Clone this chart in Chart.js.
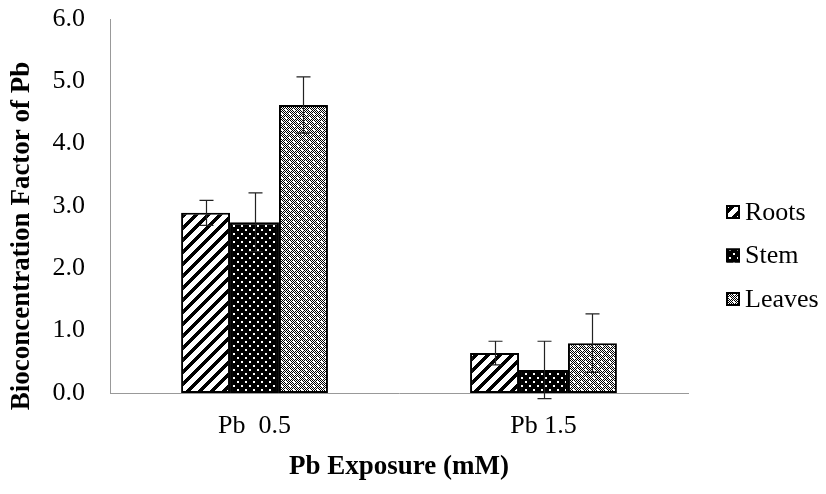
<!DOCTYPE html>
<html><head><meta charset="utf-8">
<script src="https://cdn.jsdelivr.net/npm/chart.js@4.4.0/dist/chart.umd.min.js"></script>
<style>html,body{margin:0;padding:0;background:#fff}#wrap{width:826px;height:494px}</style>
</head><body><div id="wrap"><canvas id="c" width="826" height="494"></canvas></div>
<script>
const categories = ["Pb  0.5", "Pb 1.5"];
const seriesNames = ["Roots", "Stem", "Leaves"];
const rootsValues = [2.89, 0.64];
const stemValues = [2.74, 0.37];
const leavesValues = [4.62, 0.80];
const rootsErrors = [0.20, 0.19];
const stemErrors = [0.47, 0.46];
const leavesErrors = [0.45, 0.47];
const yTicks = [0, 1, 2, 3, 4, 5, 6];
const xTitle = 'Pb Exposure (mM)';
const yTitle = 'Bioconcentration Factor of Pb';

function makeTile(w, h, draw) {
  const c = document.createElement('canvas'); c.width = w; c.height = h;
  const g = c.getContext('2d'); draw(g, w, h);
  return document.getElementById('c').getContext('2d').createPattern(c, 'repeat');
}
const rootsPattern = makeTile(12, 12, (g, w, h) => {
  g.fillStyle = '#fff'; g.fillRect(0, 0, w, h);
  g.fillStyle = '#000';
  for (let x = 0; x < w; x++) for (let y = 0; y < h; y++) if ((x + y) % 12 < 5) g.fillRect(x, y, 1, 1);
});
const stemPattern = makeTile(8, 8, (g, w, h) => {
  g.fillStyle = '#000'; g.fillRect(0, 0, w, h);
  g.fillStyle = '#fff';
  g.fillRect(1, 1, 2, 2); g.fillRect(5, 5, 2, 2);
});
const leavesPattern = makeTile(8, 8, (g, w, h) => {
  g.fillStyle = '#fff'; g.fillRect(0, 0, w, h);
  g.fillStyle = '#000';
  for (let x = 0; x < w; x++) for (let y = 0; y < h; y++) if ((x + y) % 2 === 0) g.fillRect(x, y, 1, 1);
  g.fillStyle = '#fff'; g.fillRect(1, 1, 2, 2); g.fillRect(5, 5, 2, 2);
});
const patterns = [rootsPattern, stemPattern, leavesPattern];

const errors = [rootsErrors, stemErrors, leavesErrors];
const errorBars = {
  id: 'errorBars',
  afterDatasetsDraw(chart) {
    const ctx = chart.ctx, ys = chart.scales.y;
    ctx.save(); ctx.strokeStyle = '#222'; ctx.lineWidth = 1.2;
    chart.data.datasets.forEach((ds, i) => {
      const meta = chart.getDatasetMeta(i);
      meta.data.forEach((el, j) => {
        const v = ds.data[j], e = errors[i][j];
        const x = Math.round(el.x) + 0.5;
        const t = ys.getPixelForValue(v + e), b = ys.getPixelForValue(v - e);
        ctx.beginPath();
        ctx.moveTo(x, t); ctx.lineTo(x, b);
        ctx.moveTo(x - 7, t); ctx.lineTo(x + 7, t);
        ctx.moveTo(x - 7, b); ctx.lineTo(x + 7, b);
        ctx.stroke();
      });
    });
    ctx.restore();
  }
};

const serif = "'Liberation Serif', 'Times New Roman', serif";
const sideLegend = {
  id: 'sideLegend',
  afterDraw(chart) {
    const ctx = chart.ctx;
    ctx.save();
    ctx.translate(22, 236); ctx.rotate(-Math.PI / 2);
    ctx.font = "bold 27px " + serif; ctx.fillStyle = '#000';
    ctx.textAlign = 'center'; ctx.textBaseline = 'middle';
    ctx.fillText(yTitle, 0, 0);
    ctx.restore();
    ctx.save();
    ctx.font = "26px " + serif; ctx.textBaseline = 'middle'; ctx.textAlign = 'left';
    chart.data.datasets.forEach((ds, i) => {
      const cy = 212 + i * 43.5;
      const bx = chart.chartArea.right + 38;
      ctx.fillStyle = patterns[i]; ctx.fillRect(bx, cy - 7, 14, 14);
      ctx.strokeStyle = '#000'; ctx.lineWidth = 2; ctx.strokeRect(bx + 1, cy - 6, 12, 12);
      ctx.fillStyle = '#000'; ctx.fillText(ds.label, bx + 19, cy + 1);
    });
    ctx.restore();
  }
};

new Chart(document.getElementById('c'), {
  type: 'bar',
  data: {
    labels: categories,
    datasets: [
      { label: seriesNames[0], data: rootsValues, backgroundColor: rootsPattern },
      { label: seriesNames[1], data: stemValues, backgroundColor: stemPattern },
      { label: seriesNames[2], data: leavesValues, backgroundColor: leavesPattern }
    ].map(d => Object.assign(d, { borderColor: '#000', borderWidth: 2, borderSkipped: false, categoryPercentage: 0.508, barPercentage: 1 }))
  },
  options: {
    responsive: false, animation: false,
    layout: { padding: { top: 19, right: 138, left: 0, bottom: 0 } },
    plugins: { tooltip: { enabled: false }, legend: { display: false } },
    scales: {
      x: {
        afterFit(s) { s.height = 101; s.paddingLeft = 0; s.paddingRight = 0; },
        grid: { display: false, drawTicks: false },
        border: { color: '#999', width: 1 },
        ticks: { color: '#000', padding: 18, font: { family: serif, size: 26 } },
        title: { display: true, text: xTitle, color: '#000', padding: { top: 0, bottom: 11 }, font: { family: serif, size: 27, weight: 'bold' } }
      },
      y: {
        min: 0, max: 6,
        afterFit(s) { s.width = 110; s.paddingTop = 0; s.paddingBottom = 0; },
        afterBuildTicks(s) { s.ticks = yTicks.map(v => ({ value: v })); },
        grid: { display: false, drawOnChartArea: false, drawTicks: true, tickLength: 8, color: '#999' },
        border: { color: '#999', width: 1 },
        ticks: { color: '#000', padding: 17, font: { family: serif, size: 26 }, callback: v => Number(v).toFixed(1) },
        title: { display: false, text: yTitle }
      }
    }
  },
  plugins: [errorBars, sideLegend]
});
</script></body></html>
